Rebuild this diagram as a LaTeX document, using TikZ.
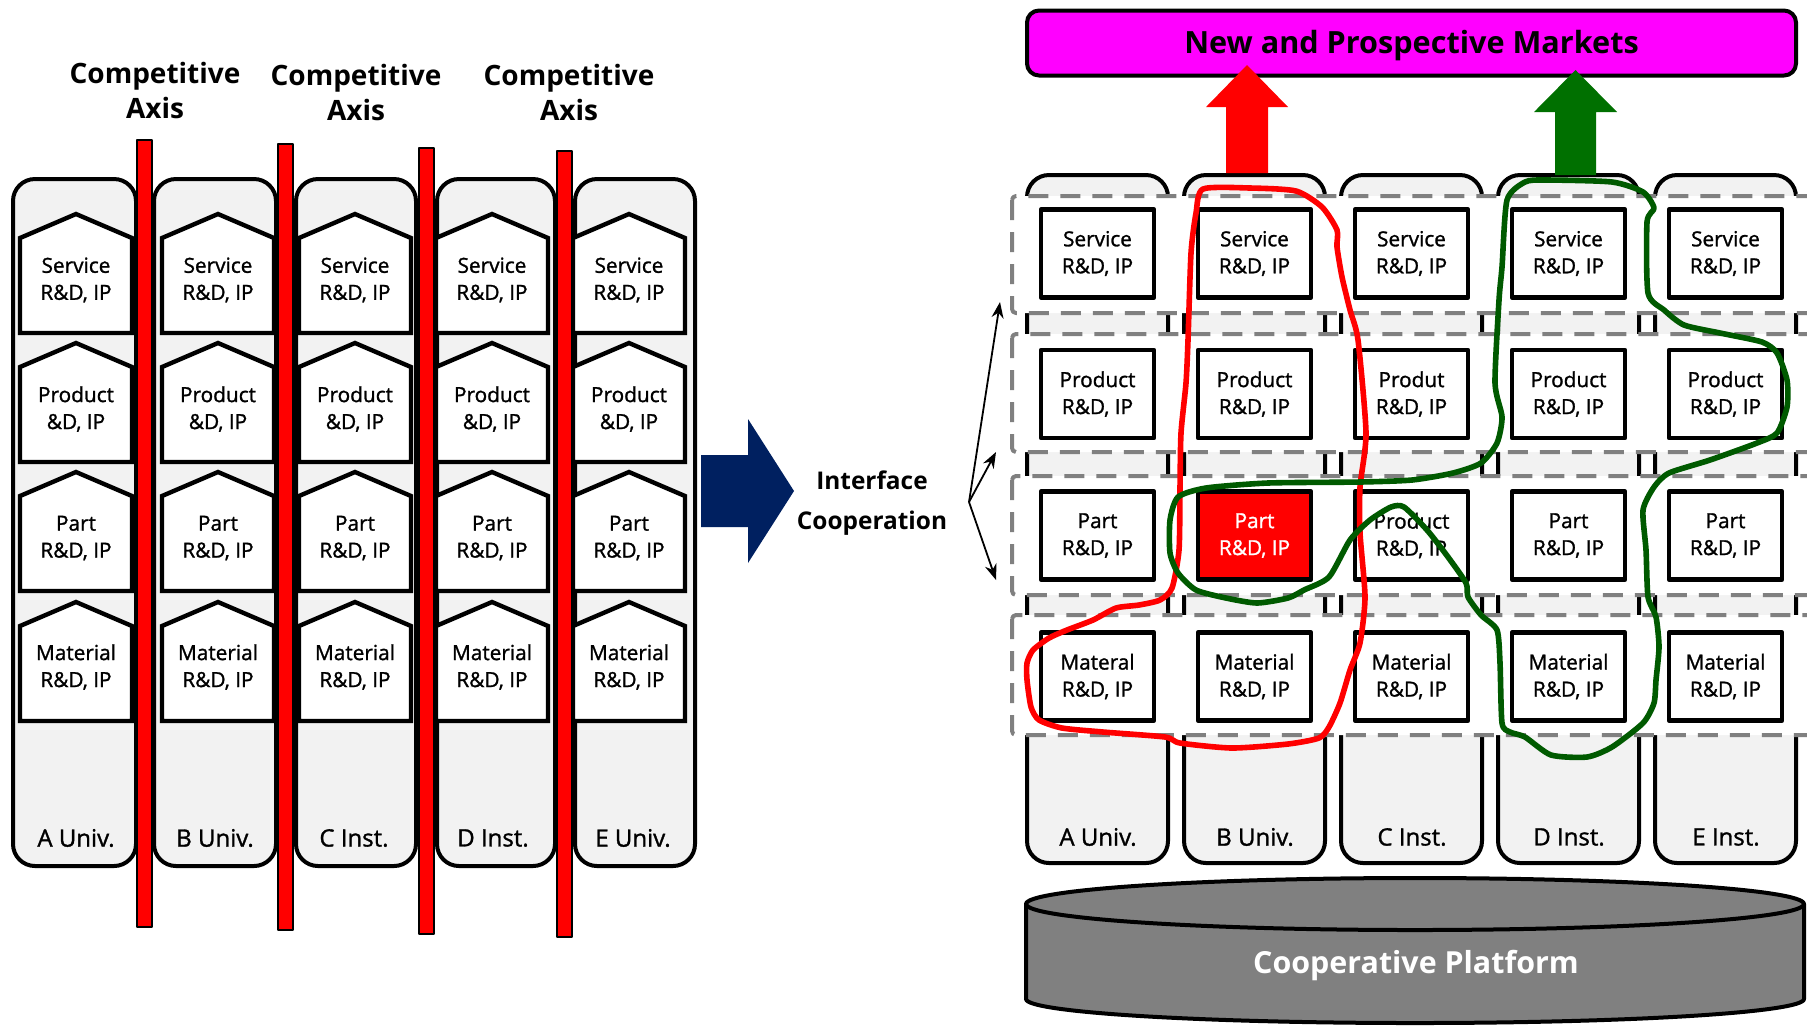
\documentclass[tikz,border=0pt]{standalone}
\usepackage{fontspec}
\setmainfont{Open Sans}
\newfontfamily\semifont[FakeBold=1.2]{Open Sans}
\usetikzlibrary{positioning,arrows.meta}

\definecolor{navy}{RGB}{0,32,96}
\definecolor{colgray}{RGB}{242,242,242}
\definecolor{dashgray}{RGB}{128,128,128}
\definecolor{platgray}{RGB}{128,128,128}
\definecolor{arrowgreen}{RGB}{0,112,0}
\definecolor{loopgreen}{RGB}{0,90,0}
\definecolor{markmag}{RGB}{255,0,255}

\begin{document}
\begin{tikzpicture}[x=0.5pt, y=-0.5pt, every path/.style={line join=round},
	instcol/.style={draw=black, line width=2pt, fill=colgray, rounded corners=11pt},
	axisbar/.style={draw=black, line width=0.6pt, fill=red},
	house/.style={draw=black, line width=2.2pt, fill=white, line join=miter},
	txt/.style={font=\semifont\fontsize{10.4}{13.5}\selectfont, align=center, inner sep=0pt},
	box/.style={draw=black, line width=2.4pt, fill=white, minimum width=56.5pt, minimum height=44pt, inner sep=0pt, font=\semifont\fontsize{10.4}{13.5}\selectfont, align=center},
	rowbox/.style={draw=dashgray, line width=2pt, dash pattern=on 10pt off 6pt, fill=white, rounded corners=2pt},
	colname/.style={font=\semifont\fontsize{12}{14}\selectfont, inner sep=0pt},
	title/.style={font=\bfseries\fontsize{14}{17.5}\selectfont, align=center, inner sep=0pt},
	freehand/.style={line width=2.8pt, line cap=round, line join=round}]
	\useasboundingbox (0,0) rectangle (1807,1025);

	% competing organisations
	\draw[instcol] (13,179) rectangle (136,866);
	\draw[instcol] (154,179) rectangle (276,866);
	\draw[instcol] (296,179) rectangle (416,866);
	\draw[instcol] (437,179) rectangle (555,866);
	\draw[instcol] (575,179) rectangle (695,866);
	\foreach \x in {76,218,355,492,629}
		\foreach \y in {214,343,472,602}
			\draw[house] (\x-56,\y+24) -- (\x,\y) -- (\x+56,\y+24) -- (\x+56,\y+119) -- (\x-56,\y+119) -- cycle;
	\foreach \x/\c in {76/A,218/B,355/C,492/D,629/E} {
		\node[txt] (L\c1) at (\x,280) {Service\\R\&D, IP};
		\node[txt] (L\c2) at (\x,409) {Product\\\&D, IP};
		\node[txt] (L\c3) at (\x,538) {Part\\R\&D, IP};
		\node[txt] (L\c4) at (\x,667) {Material\\R\&D, IP};
	}
	\node[colname] (LA) at (76,838) {A Univ.};
	\node[colname] (LB) at (215,838) {B Univ.};
	\node[colname] (LC) at (354,838) {C Inst.};
	\node[colname] (LD) at (493,838) {D Inst.};
	\node[colname] (LE) at (633,838) {E Univ.};
	\draw[axisbar] (137,140) rectangle (152,927);
	\draw[axisbar] (278,144) rectangle (293,930);
	\draw[axisbar] (419,148) rectangle (434,934);
	\draw[axisbar] (557,151) rectangle (572,937);
	\node[title] (ax1) at (155,90) {Competitive\\Axis};
	\node[title] (ax2) at (356,92) {Competitive\\Axis};
	\node[title] (ax3) at (569,92) {Competitive\\Axis};

	% transition
	\fill[navy] (701,455) -- (748,455) -- (748,419) -- (794,491) -- (748,563) -- (748,527) -- (701,527) -- cycle;
	\node[font=\bfseries\fontsize{12.2}{20}\selectfont, align=center, inner sep=0pt] (iface) at (872,503) {Interface\\Cooperation};
	\coordinate (fork) at (969,502);
	\coordinate (up1) at (1000,302);
	\coordinate (up2) at (996,452);
	\coordinate (down1) at (996,580);
	\draw[-{Stealth[length=8pt,width=6pt]}, line width=0.9pt] (fork) -- (up1);
	\draw[-{Stealth[length=8pt,width=6pt]}, line width=0.9pt] (fork) -- (up2);
	\draw[-{Stealth[length=8pt,width=6pt]}, line width=0.9pt] (fork) -- (down1);

	% cooperating organisations
	\foreach \x in {1025,1182,1339,1496,1653}
		\draw[instcol] (\x+2,175) rectangle (\x+143,863);
	\draw[rowbox] (1012,196) rectangle (1830,313);
	\draw[rowbox] (1012,334) rectangle (1830,452);
	\draw[rowbox] (1012,476) rectangle (1830,595);
	\draw[rowbox] (1012,615) rectangle (1830,735);
	\foreach \x/\c in {1097.5/A,1254.5/B,1411.5/C,1568.5/D,1725.5/E}
		\node[box] (R\c1) at (\x,253.5) {Service\\R\&D, IP};
	\node[box] (RA2) at (1097.5,394) {Product\\R\&D, IP};
	\node[box] (RB2) at (1254.5,394) {Product\\R\&D, IP};
	\node[box] (RC2) at (1411.5,394) {Produt\\R\&D, IP};
	\node[box] (RD2) at (1568.5,394) {Product\\R\&D, IP};
	\node[box] (RE2) at (1725.5,394) {Product\\R\&D, IP};
	\node[box] (RA3) at (1097.5,535.5) {Part\\R\&D, IP};
	\node[box, fill=red, text=white] (RB3) at (1254.5,535.5) {Part\\R\&D, IP};
	\node[box] (RC3) at (1411.5,535.5) {Product\\R\&D, IP};
	\node[box] (RD3) at (1568.5,535.5) {Part\\R\&D, IP};
	\node[box] (RE3) at (1725.5,535.5) {Part\\R\&D, IP};
	\node[box] (RA4) at (1097.5,676.5) {Materal\\R\&D, IP};
	\foreach \x/\c in {1254.5/B,1411.5/C,1568.5/D,1725.5/E}
		\node[box] (R\c4) at (\x,676.5) {Material\\R\&D, IP};
	\node[colname] (RA) at (1098,837) {A Univ.};
	\node[colname] (RB) at (1255,837) {B Univ.};
	\node[colname] (RC) at (1412,837) {C Inst.};
	\node[colname] (RD) at (1569,837) {D Inst.};
	\node[colname] (RE) at (1726,837) {E Inst.};

	% markets
	\node[draw=black, line width=2pt, fill=markmag, rounded corners=6pt, minimum width=384.5pt, minimum height=32.5pt, text height=10.9pt, text depth=0pt, font=\bfseries\fontsize{15.3}{18}\selectfont] (markets) at (1411.5,43) {New and Prospective Markets};
	\fill[red] (1226,173) -- (1226,107) -- (1206,107) -- (1247,65) -- (1288,107) -- (1268,107) -- (1268,173) -- cycle;
	\fill[arrowgreen] (1555,175) -- (1555,112) -- (1534,112) -- (1575.5,70) -- (1617,112) -- (1596,112) -- (1596,175) -- cycle;

	% platform
	\filldraw[draw=black, line width=2pt, fill=platgray] (1026,904) -- (1026,999) arc[start angle=180, end angle=0, x radius=389, y radius=24] -- (1804,904) arc[start angle=0, end angle=-180, x radius=389, y radius=26] -- cycle;
	\draw[line width=2pt] (1026,904) arc[start angle=180, end angle=0, x radius=389, y radius=26];
	\node[text=white, font=\bfseries\fontsize{15.2}{18}\selectfont, inner sep=0pt] (platform) at (1416,965) {Cooperative Platform};

	% value chains
	\draw[freehand, red] plot[smooth cycle, tension=0.4] coordinates {(1203,189) (1250,188) (1296,191) (1322,207) (1337,230) (1337,247) (1342,277) (1350,310) (1358,340) (1366,433) (1360,487) (1360,533) (1365,597) (1360,643) (1350,670) (1340,703) (1329,727) (1319,738) (1288,744) (1232,748) (1180,743) (1165,737) (1103,732) (1062,728) (1039,720) (1031,707) (1027,680) (1027,663) (1033,650) (1049,638) (1067,630) (1093,620) (1116,608) (1139,605) (1160,600) (1172,588) (1179,550) (1180,487) (1181,433) (1186,383) (1188,340) (1191,253) (1196,213)};
	\draw[freehand, loopgreen] plot[smooth cycle, tension=0.4] coordinates {(1545,180) (1612,182) (1643,192) (1654,208) (1647,222) (1648,293) (1664,310) (1684,325) (1720,333) (1762,342) (1777,353) (1787,380) (1787,407) (1777,433) (1757,443) (1710,460) (1669,473) (1654,487) (1643,510) (1646,550) (1648,597) (1656,617) (1659,647) (1656,680) (1654,703) (1643,723) (1612,747) (1587,757) (1551,755) (1525,737) (1510,732) (1502,723) (1500,663) (1497,630) (1481,615) (1468,597) (1466,583) (1448,557) (1427,530) (1404,507) (1391,507) (1370,520) (1350,540) (1329,577) (1304,590) (1288,598) (1257,603) (1226,598) (1196,590) (1178,573) (1170,553) (1170,520) (1178,497) (1206,488) (1268,483) (1360,482) (1412,480) (1453,473) (1481,463) (1497,443) (1502,417) (1495,383) (1499,300) (1502,267) (1507,200) (1525,182)};
\end{tikzpicture}
\end{document}
